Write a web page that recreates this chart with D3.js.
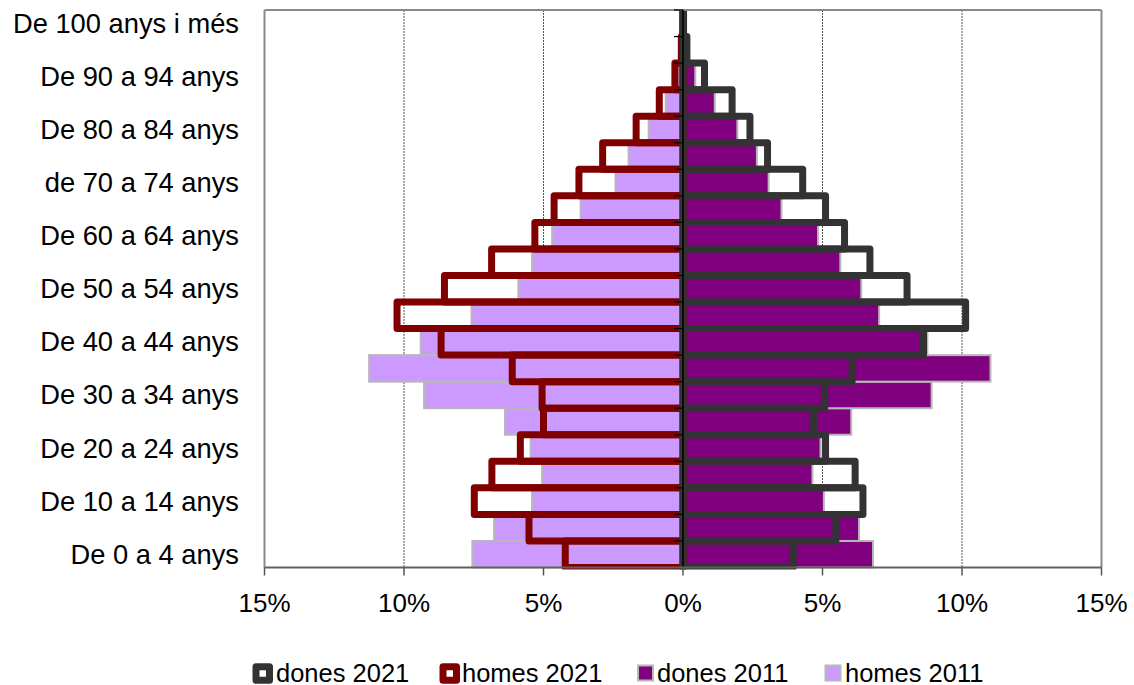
<!DOCTYPE html>
<html><head><meta charset="utf-8">
<script src="https://cdn.jsdelivr.net/npm/d3@7"></script>
<style>
body{margin:0;background:#fff;}
text{font-family:"Liberation Sans",Arial,Helvetica,sans-serif;fill:#000;}
</style>
</head><body>
<svg id="c" width="1134" height="685"></svg>
<script>
// Age groups, bottom (youngest) to top (oldest)
const categories = ["De 0 a 4 anys","De 5 a 9 anys","De 10 a 14 anys","De 15 a 19 anys","De 20 a 24 anys",
  "De 25 a 29 anys","De 30 a 34 anys","De 35 a 39 anys","De 40 a 44 anys","De 45 a 49 anys",
  "De 50 a 54 anys","De 55 a 59 anys","De 60 a 64 anys","De 65 a 69 anys","de 70 a 74 anys",
  "De 75 a 79 anys","De 80 a 84 anys","De 85 a 89 anys","De 90 a 94 anys","De 95 a 99 anys","De 100 anys i més"];
// Percentages of population
const homes2021 = [4.22,5.52,7.48,6.85,5.83,5.00,5.05,6.12,8.67,10.25,8.55,6.86,5.31,4.62,3.73,2.88,1.68,0.85,0.29,0.06,0.01];
const dones2021 = [3.95,5.48,6.45,6.17,5.11,4.68,5.08,6.06,8.62,10.13,8.03,6.70,5.79,5.11,4.29,3.03,2.40,1.76,0.77,0.14,0.02];
const homes2011 = [7.55,6.77,5.41,5.05,5.46,6.38,9.28,11.25,9.40,7.58,5.90,5.41,4.69,3.67,2.42,1.95,1.23,0.62,0.20,0.04,0.00];
const dones2011 = [6.81,6.31,5.05,4.64,4.93,6.03,8.91,11.02,8.76,7.03,6.39,5.64,4.84,3.53,3.07,2.65,1.95,1.14,0.44,0.10,0.01];
const tickValues = [-15,-10,-5,0,5,10,15];
const tickLabels = ["15%","10%","5%","0%","5%","10%","15%"];
const gridValues = [-10,-5,5,10];
const legendLabels = ["dones 2021","homes 2021","dones 2011","homes 2011"];
const colors = {d21:"#333333", h21:"#800000", d11:"#800080", h11:"#CC99FF"};

const svg = d3.select("#c");
const L = 264.5, R = 1101.5, T = 10, B = 567.5;
const x = d3.scaleLinear().domain([-15,15]).range([L,R]);
const y = d3.scaleBand().domain(d3.range(categories.length)).range([B,T]).padding(0);
const bw = y.bandwidth();
const x0 = x(0);

// gridlines
svg.append("g").selectAll("line").data(gridValues).join("line")
  .attr("x1", d=>x(d)).attr("x2", d=>x(d)).attr("y1", T).attr("y2", B)
  .attr("stroke", "#555").attr("stroke-width", 1).attr("stroke-dasharray", "2,1");

// 2011 bars
const g11 = svg.append("g");
g11.selectAll("rect.h11").data(homes2011).join("rect").attr("class","h11")
  .attr("x", d=>x(-d)).attr("width", d=>x0 - x(-d))
  .attr("y", (d,i)=>y(i)).attr("height", bw)
  .attr("fill", colors.h11).attr("stroke", "#b8b8b8").attr("stroke-width", 2);
g11.selectAll("rect.d11").data(dones2011).join("rect").attr("class","d11")
  .attr("x", x0).attr("width", d=>x(d) - x0)
  .attr("y", (d,i)=>y(i)).attr("height", bw)
  .attr("fill", colors.d11).attr("stroke", "#b8b8b8").attr("stroke-width", 2);

// clip for 2021 outlines
svg.append("clipPath").attr("id","clip").append("rect")
  .attr("x", 0).attr("y", T).attr("width", 1134).attr("height", B - T + 2);
const g21 = svg.append("g").attr("clip-path","url(#clip)");
g21.selectAll("rect.h21").data(homes2021).join("rect").attr("class","h21")
  .attr("x", d=>x(-d)).attr("width", d=>x0 - x(-d))
  .attr("y", (d,i)=>y(i)).attr("height", bw)
  .attr("fill", "none").attr("stroke", colors.h21).attr("stroke-width", 7).attr("stroke-linejoin","round");
g21.selectAll("rect.d21").data(dones2021).join("rect").attr("class","d21")
  .attr("x", x0).attr("width", d=>x(d) - x0)
  .attr("y", (d,i)=>y(i)).attr("height", bw)
  .attr("fill", "none").attr("stroke", colors.d21).attr("stroke-width", 7).attr("stroke-linejoin","round");

// frame
svg.append("line").attr("x1", L).attr("x2", R).attr("y1", T).attr("y2", T).attr("stroke","#8a8a8a").attr("stroke-width",2);
svg.append("line").attr("x1", L).attr("x2", L).attr("y1", T).attr("y2", B).attr("stroke","#8a8a8a").attr("stroke-width",2);
svg.append("line").attr("x1", R).attr("x2", R).attr("y1", T).attr("y2", B).attr("stroke","#8a8a8a").attr("stroke-width",2);

// zero (category) axis
svg.append("line").attr("x1", x0).attr("x2", x0).attr("y1", T).attr("y2", B).attr("stroke","#000").attr("stroke-width",1.5);
const bounds = d3.range(categories.length + 1).map(i => i < categories.length ? y(i) + bw : y(i-1));
svg.append("g").selectAll("line").data(bounds).join("line")
  .attr("x1", x0 - 9).attr("x2", x0).attr("y1", d=>d).attr("y2", d=>d)
  .attr("stroke","#000").attr("stroke-width",1.2);

// category labels (every other)
svg.append("g").selectAll("text").data(categories).join("text")
  .filter((d,i)=> i % 2 === 0)
  .attr("x", 239).attr("y", (d,i)=> y(i*2) + bw/2 + 9.5)
  .attr("text-anchor","end").attr("font-size", 27.3).text(d=>d);

// bottom axis
svg.append("line").attr("x1", L).attr("x2", R).attr("y1", B).attr("y2", B).attr("stroke","#606060").attr("stroke-width",2);
const xa = svg.append("g");
xa.selectAll("line").data(tickValues).join("line")
  .attr("x1", d=>x(d)).attr("x2", d=>x(d)).attr("y1", B).attr("y2", B + 8)
  .attr("stroke","#555").attr("stroke-width",1.5);
xa.selectAll("text").data(tickValues).join("text")
  .attr("x", d=>x(d)).attr("y", 612).attr("text-anchor","middle").attr("font-size", 26)
  .text((d,i)=>tickLabels[i]);

// legend
const leg = svg.append("g");
const legItems = [
  {label: legendLabels[0], sx: 256, tx: 276, kind: "outline", color: colors.d21},
  {label: legendLabels[1], sx: 443, tx: 462, kind: "outline", color: colors.h21},
  {label: legendLabels[2], sx: 638, tx: 657, kind: "solid", color: colors.d11},
  {label: legendLabels[3], sx: 825.5, tx: 845, kind: "solid", color: colors.h11}
];
legItems.forEach(it => {
  if (it.kind === "outline") {
    leg.append("rect").attr("x", it.sx).attr("y", 666.8).attr("width", 13.5).attr("height", 13.5)
      .attr("fill","#fff").attr("stroke", it.color).attr("stroke-width", 7).attr("stroke-linejoin","round");
  } else {
    leg.append("rect").attr("x", it.sx).attr("y", 665.5).attr("width", 15).attr("height", 15)
      .attr("fill", it.color).attr("stroke", "#b8b8b8").attr("stroke-width", 2);
  }
  leg.append("text").attr("x", it.tx).attr("y", 681.5).attr("font-size", 25.5).text(it.label);
});
</script>
</body></html>
